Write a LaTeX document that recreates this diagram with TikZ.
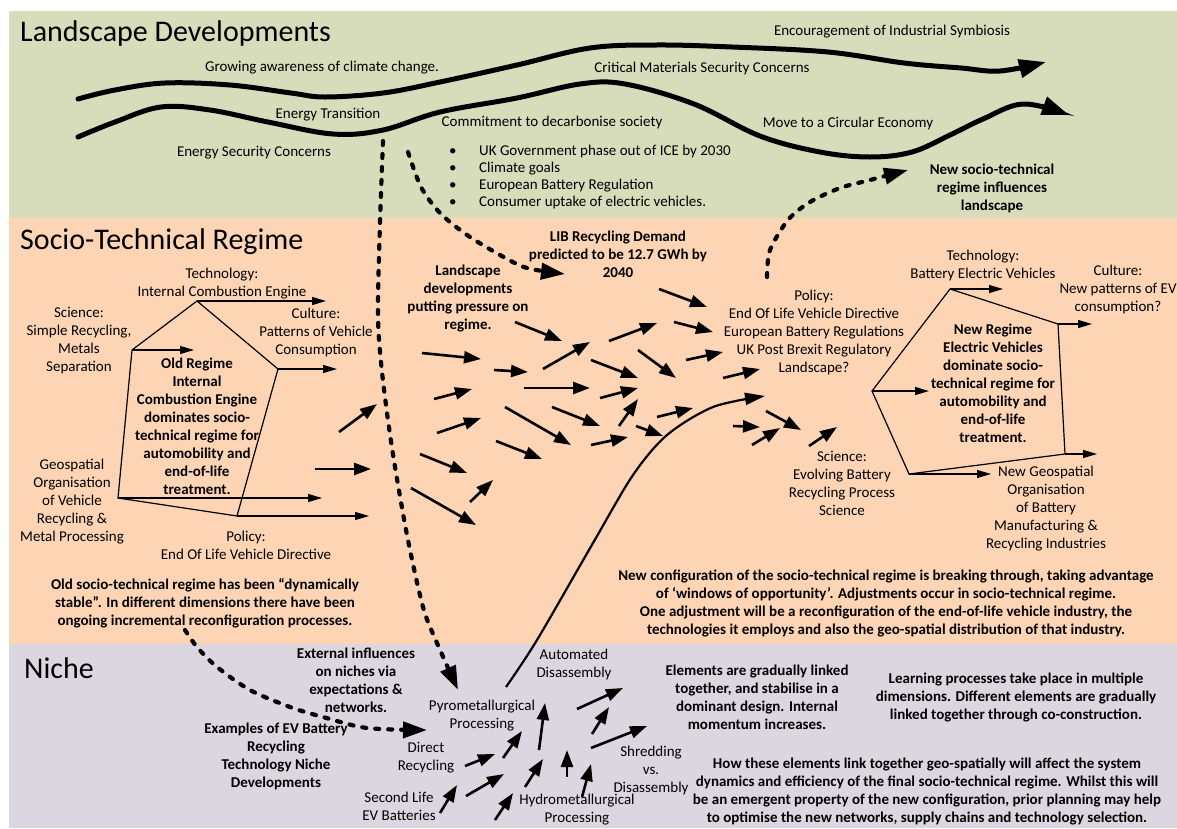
\documentclass[tikz,border=0pt]{standalone}
\usepackage{fontspec}
\setmainfont{Carlito}
\usetikzlibrary{arrows.meta}
\definecolor{landg}{HTML}{D7DDBB}
\definecolor{regor}{HTML}{FDD5B4}
\definecolor{nichp}{HTML}{DCD6E1}
\newcommand\fsz{\fontsize{15}{18}\selectfont}
\newcommand\bulfs{\fontsize{15}{17}\selectfont}
\newcommand\ttlfs{\fontsize{30}{36}\selectfont}
\begin{document}
\begin{tikzpicture}[x=1pt,y=-1pt,
 lbl/.style={align=center,inner sep=0pt,font=\fsz},
 bld/.style={align=center,inner sep=0pt,font=\fsz\bfseries},
 ttl/.style={anchor=west,inner sep=0pt,font=\ttlfs},
 wave/.style={line width=5pt,line cap=round,-{Triangle[length=27pt,width=18pt]}},
 dsh/.style={line width=4.2pt,line cap=round,dash pattern=on 4pt off 9pt,-{Triangle[length=24pt,width=16pt]}},
 thk/.style={line width=2.6pt,-{Triangle[length=17pt,width=12pt]}},
 thn/.style={line width=1.2pt,-{Triangle[length=14pt,width=8pt]}},
 pent/.style={line width=1.2pt,line join=miter},
 crv/.style={line width=2.2pt,-{Triangle[length=20pt,width=12pt]}}]
% background bands
\fill[white] (0,0) rectangle (1177,828);
\fill[landg] (9,11) rectangle (1177,218);
\fill[regor] (9,218) rectangle (1177,644);
\fill[nichp] (9,644) rectangle (1177,828);
\useasboundingbox (0,0) rectangle (1177,828);

% ---------- Landscape ----------
\node[ttl] (tLand) at (20,33) {Landscape Developments};
\node[lbl] (grow) at (322,68) {Growing awareness of climate change.};
\node[lbl] (enc) at (892,32) {Encouragement of Industrial Symbiosis};
\node[lbl] (crit) at (702,68) {Critical Materials Security Concerns};
\node[lbl] (et) at (328,115) {Energy Transition};
\node[lbl] (commit) at (552,122) {Commitment to decarbonise society};
\node[lbl] (move) at (848,123) {Move to a Circular Economy};
\node[lbl] (esc) at (254,153) {Energy Security Concerns};
\node[lbl,align=left,anchor=west,font=\bulfs] (bul) at (449,177)
 {\makebox[30pt][l]{\textbullet}UK Government phase out of ICE by 2030\\
  \makebox[30pt][l]{\textbullet}Climate goals\\
  \makebox[30pt][l]{\textbullet}European Battery Regulation\\
  \makebox[30pt][l]{\textbullet}Consumer uptake of electric vehicles.};
\node[bld] (newsoc) at (992,188) {New socio-technical\\regime influences\\landscape};

\draw[wave] plot[smooth,tension=0.6] coordinates {(78,99) (115,90) (165,83) (230,85) (291,93) (325,97) (383,93) (440,82) (517,65) (590,48) (656,45) (732,47) (828,52) (904,63) (961,68) (1000,71) (1046,62)};
\draw[wave] plot[smooth,tension=0.6] coordinates {(78,137) (115,122) (161,107) (210,110) (268,122) (333,134) (383,130) (440,112) (517,98) (580,84) (625,84) (694,104) (760,136) (820,152) (870,157) (912,152) (950,135) (983,119) (1023,104) (1069,115)};

% ---------- Regime ----------
\node[ttl] (tReg) at (20,242) {Socio-Technical Regime};
\node[lbl] (otech) at (222,284) {Technology:\\Internal Combustion Engine};
\node[lbl] (osci) at (79,341) {Science:\\Simple Recycling,\\Metals\\Separation};
\node[lbl] (ocul) at (316,332) {Culture:\\Patterns of Vehicle\\Consumption};
\node[bld] (old) at (197,426) {Old Regime\\Internal\\Combustion Engine\\dominates socio-\\technical regime for\\automobility and\\end-of-life\\treatment.};
\node[lbl] (ogeo) at (72,502) {Geospatial\\Organisation\\of Vehicle\\Recycling \&\\Metal Processing};
\node[lbl] (opol) at (246,545) {Policy:\\End Of Life Vehicle Directive};
\node[bld] (oldsoc) at (205,603) {Old socio-technical regime has been “dynamically\\stable”. In different dimensions there have been\\ongoing incremental reconfiguration processes.};
\node[bld] (lpress) at (468,299) {Landscape\\developments\\putting pressure on\\regime.};
\node[bld] (lib) at (618,254) {LIB Recycling Demand\\predicted to be 12.7 GWh by\\2040};
\node[lbl] (npol) at (814,332) {Policy:\\End Of Life Vehicle Directive\\European Battery Regulations\\UK Post Brexit Regulatory\\Landscape?};
\node[lbl] (ntech) at (983,265) {Technology:\\Battery Electric Vehicles};
\node[lbl] (ncul) at (1118,289) {Culture:\\New patterns of EV\\consumption?};
\node[bld] (new) at (993,383) {New Regime\\Electric Vehicles\\dominate socio-\\technical regime for\\automobility and\\end-of-life\\treatment.};
\node[lbl] (nsci) at (842,483) {Science:\\Evolving Battery\\Recycling Process\\Science};
\node[lbl] (ngeo) at (1046,509) {New Geospatial\\Organisation\\of Battery\\Manufacturing \&\\Recycling Industries};
\node[bld] (newconf) at (886,603) {New configuration of the socio-technical regime is breaking through, taking advantage\\of ‘windows of opportunity’. Adjustments occur in socio-technical regime.\\One adjustment will be a reconfiguration of the end-of-life vehicle industry, the\\technologies it employs and also the geo-spatial distribution of that industry.};

% old regime pentagon
\coordinate (oT) at (197,301);
\coordinate (oL1) at (132,350);
\coordinate (oL2) at (118,498);
\coordinate (oB) at (237,516);
\coordinate (oR) at (278,369);
\draw[pent] (oT)--(oL1)--(oL2)--(oB)--(oR)--cycle;
\coordinate (oTe) at (326,301);
\coordinate (oL1e) at (194,350);
\coordinate (oRe) at (337,369);
\coordinate (oL2e) at (322,498);
\coordinate (oBe) at (369,516);
\draw[thn] (oT)--(oTe);
\draw[thn] (oL1)--(oL1e);
\draw[thn] (oR)--(oRe);
\draw[thn] (oL2)--(oL2e);
\draw[thn] (oB)--(oBe);

% new regime pentagon
\coordinate (nT) at (950,289);
\coordinate (nR1) at (1058,324);
\coordinate (nR2) at (1065,454);
\coordinate (nB) at (909,474);
\coordinate (nL) at (872,391);
\draw[pent] (nT)--(nR1)--(nR2)--(nB)--(nL)--cycle;
\coordinate (nTe) at (1003,289);
\coordinate (nR1e) at (1092,324);
\coordinate (nLe) at (929,391);
\coordinate (nR2e) at (1097,454);
\coordinate (nBe) at (991,474);
\draw[thn] (nT)--(nTe);
\draw[thn] (nR1)--(nR1e);
\draw[thn] (nL)--(nLe);
\draw[thn] (nR2)--(nR2e);
\draw[thn] (nB)--(nBe);

% pressure arrows
\foreach \a/\b/\c/\d in {339/432/377/404, 315/469/371/469, 422/353/481/359, 494/370/528/372,
 434/399/472/389, 437/433/481/418, 420/454/467/473, 411/488/476/525, 470/502/493/480,
 496/441/542/459, 505/407/571/445, 524/388/590/388, 543/369/590/342, 515/322/562/341,
 552/407/600/426, 591/360/638/378, 600/398/638/388, 619/426/638/399, 591/445/628/437,
 636/426/663/436, 609/341/657/323, 638/350/676/378, 659/289/707/307, 674/322/713/332,
 686/360/723/352, 723/378/760/369, 657/417/693/408, 733/426/760/427, 752/445/780/428,
 766/411/801/430, 809/446/837/427}
 {\draw[thk] (\a,\b) -- (\c,\d);}

% ---------- Niche ----------
\node[ttl] (tNiche) at (24,668) {Niche};
\node[bld] (ext) at (356,680) {External influences\\on niches via\\expectations \&\\networks.};
\node[bld] (exam) at (276,756) {Examples of EV Battery\\Recycling\\Technology Niche\\Developments};
\node[lbl] (pyro) at (482,716) {Pyrometallurgical\\Processing};
\node[lbl] (auto) at (574,664) {Automated\\Disassembly};
\node[lbl] (direct) at (426,758) {Direct\\Recycling};
\node[lbl] (second) at (399,806) {Second Life\\EV Batteries};
\node[lbl] (hydro) at (577,810) {Hydrometallurgical\\Processing};
\node[lbl] (shred) at (651,770) {Shredding\\vs.\\Disassembly};
\node[bld] (elem) at (757,697) {Elements are gradually linked\\together, and stabilise in a\\dominant design. Internal\\momentum increases.};
\node[bld] (learn) at (1016,697) {Learning processes take place in multiple\\dimensions. Different elements are gradually\\linked together through co-construction.};
\node[bld] (how) at (927,791) {How these elements link together geo-spatially will affect the system\\dynamics and efficiency of the final socio-technical regime. Whilst this will\\be an emergent property of the new configuration, prior planning may help\\to optimise the new networks, supply chains and technology selection.};

\foreach \a/\b/\c/\d in {440/813/457/785, 465/766/495/754, 466/796/504/774, 495/820/513/793,
 503/758/522/731, 525/787/543/759, 539/750/545/703, 567/777/567/750, 582/797/591/764,
 577/709/623/688, 592/734/609/707, 591/748/647/726}
 {\draw[thk] (\a,\b) -- (\c,\d);}

% breakthrough curve
\draw[crv] plot[smooth] coordinates {(506,687) (537,640) (593,543) (633,475) (667,435) (713,407) (765,396)};

% dashed influence arrows
\draw[dsh] plot[smooth] coordinates {(383,141) (380,222) (378,315) (382,372) (392,448) (407,535) (423,607) (437,643) (458,690)};
\draw[dsh] plot[smooth] coordinates {(408,152) (421,187) (440,213) (467,235) (500,255) (527,268) (565,274)};
\draw[dsh] plot[smooth] coordinates {(767,277) (770,250) (788,220) (810,202) (840,188) (870,180) (908,170)};
\draw[dsh] plot[smooth] coordinates {(185,630) (197,647) (217,667) (250,690) (290,707) (323,717) (367,728) (427,730)};
\end{tikzpicture}
\end{document}
